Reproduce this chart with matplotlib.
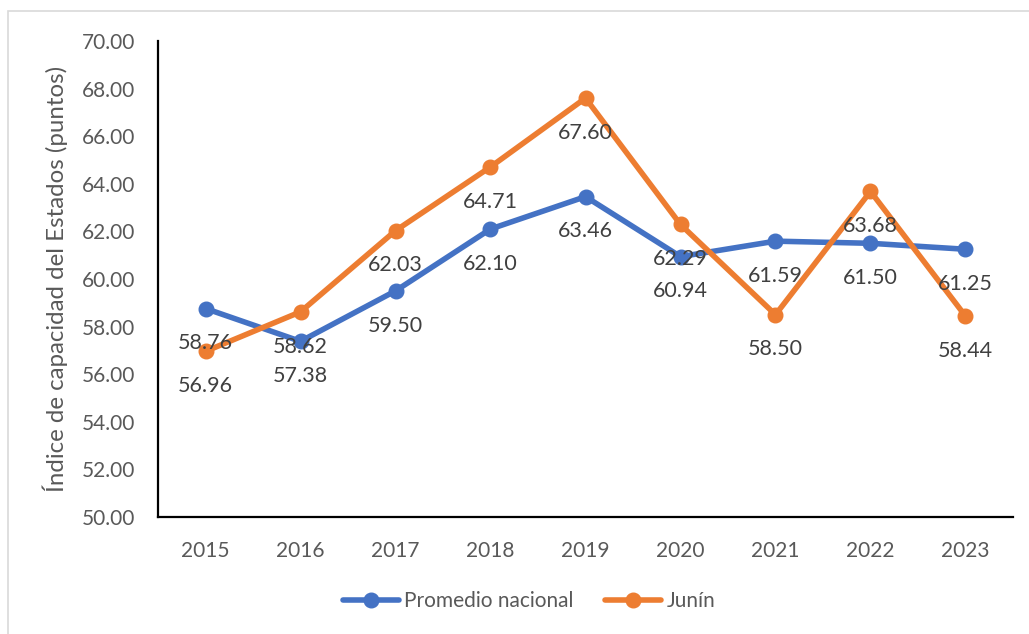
import matplotlib.pyplot as plt
from matplotlib.patches import Rectangle

years = ["2015", "2016", "2017", "2018", "2019", "2020", "2021", "2022", "2023"]
promedio = [58.76, 57.38, 59.50, 62.10, 63.46, 60.94, 61.59, 61.50, 61.25]
junin = [56.96, 58.62, 62.03, 64.71, 67.60, 62.29, 58.50, 63.68, 58.44]
yticks = [50, 52, 54, 56, 58, 60, 62, 64, 66, 68, 70]

BLUE = "#4472C4"
ORANGE = "#ED7D31"
TXT = "#595959"

plt.rcParams["font.family"] = ["Lato", "DejaVu Sans"]

fig = plt.figure(figsize=(10.29, 6.34), dpi=100)
ax = fig.add_axes([158 / 1029, 1 - 517 / 634, (1013 - 158) / 1029, (517 - 41) / 634])

# outer chart border (Excel style)
fig.patches.append(Rectangle((8 / 1029, -0.01), 1.1, 1 - 11 / 634 + 0.01,
                             transform=fig.transFigure, fill=False,
                             edgecolor="#D9D9D9", linewidth=1.2))

x = range(len(years))
ax.plot(x, promedio, color=BLUE, linewidth=4, marker="o", markersize=10.5,
        label="Promedio nacional", solid_capstyle="round")
ax.plot(x, junin, color=ORANGE, linewidth=4, marker="o", markersize=10.5,
        label="Junín", solid_capstyle="round")

for i in x:
    for v in (promedio[i], junin[i]):
        ax.annotate(f"{v:.2f}", (i, v), xytext=(0, -25), textcoords="offset points",
                    ha="center", va="center", fontsize=15.5, color="#404040")

ax.set_xlim(-0.5, len(years) - 0.5)
ax.set_ylim(50, 70)
ax.set_xticks(list(x))
ax.set_xticklabels(years)
ax.set_yticks(yticks)
ax.set_yticklabels([f"{t:.2f}" for t in yticks])
ax.tick_params(length=0, labelsize=15, colors=TXT)
ax.tick_params(axis="y", pad=16.5)
ax.tick_params(axis="x", pad=17)
for s in ("top", "right"):
    ax.spines[s].set_visible(False)
for s in ("left", "bottom"):
    ax.spines[s].set_color("black")
    ax.spines[s].set_linewidth(1.6)

ax.set_ylabel("Índice de capacidad del Estados (puntos)", fontsize=17.3, color=TXT)
ax.yaxis.set_label_coords((68 - 158) / 855, 0.5)

fig.legend(loc="center", bbox_to_anchor=(529 / 1029, 1 - 601 / 634), ncol=2,
           frameon=False, fontsize=15, labelcolor=TXT, handlelength=2.7,
           handletextpad=0.25, columnspacing=1.5)

fig.savefig("out.png", dpi=100)
